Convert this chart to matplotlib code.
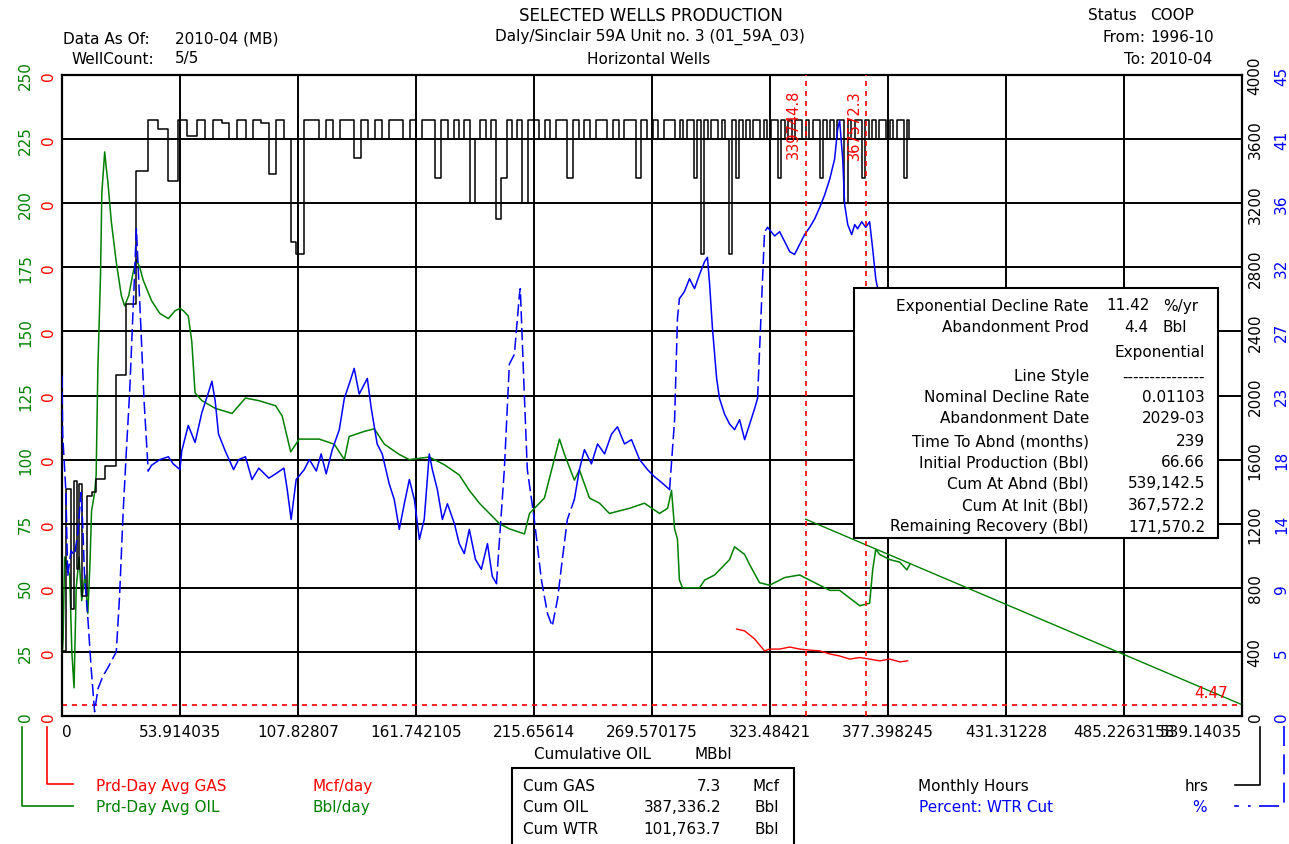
import matplotlib.pyplot as plt
from matplotlib.lines import Line2D
from matplotlib.patches import Rectangle

plt.rcParams['font.family'] = ['DejaVu Sans']
plt.rcParams['font.size'] = 11

GREEN = '#008000'
BLUE = '#0000ff'
RED = '#ff0000'

# x axis: cumulative oil, MBbl
x_max = 539.14035
x_ticks = [0, 53.914035, 107.82807, 161.742105, 215.65614, 269.570175,
           323.48421, 377.398245, 431.31228, 485.2263158, 539.14035]
x_labels = ['0', '53.914035', '107.82807', '161.742105', '215.65614', '269.570175',
            '323.48421', '377.398245', '431.31228', '485.2263158', '539.14035']

oil_ticks = [0, 25, 50, 75, 100, 125, 150, 175, 200, 225, 250]
gas_ticks = [0, 0.025, 0.05, 0.075, 0.1, 0.125, 0.15, 0.175, 0.2, 0.225, 0.25]
hrs_ticks = [0, 400, 800, 1200, 1600, 2000, 2400, 2800, 3200, 3600, 4000]
wc_ticks = [0, 4.5, 9, 13.5, 18, 22.5, 27, 31.5, 36, 40.5, 45]
wc_labels = ['0', '5', '9', '14', '18', '23', '27', '32', '36', '41', '45']

# Prd-Day Avg OIL (Bbl/day) vs cumulative oil
oil_cum = [0, 0.5, 1.2, 2.3, 3.5, 4.5, 5.5, 6.5, 7.8, 9.0, 10.5, 11.8, 12.8, 13.5,
           14.9, 15.6, 16.4, 17.6, 18.2, 19.5, 20.2, 21.0, 22.5, 24.8, 27.1, 28.6,
           30.5, 32.5, 34.0, 35.5, 37.1, 40.9, 44.7, 48.6, 51.6, 53.9, 55.5, 57.7,
           59.3, 60.8, 63.9, 70.0, 77.7, 83.8, 89.9, 97.6, 100.6, 104.5, 108.4,
           117.5, 124.4, 129.0, 131.2, 138.1, 142.7, 147.3, 154.1, 158.7, 167.8,
           174.7, 181.5, 186.1, 190.7, 195.3, 199.9, 204.4, 211.3, 213.6, 220.4,
           227.3, 229.6, 234.1, 236.4, 241.0, 245.6, 250.1, 259.3, 266.1, 273.0,
           276.7, 278.5, 279.9, 281.2, 282.1, 283.5, 291.3, 293.6, 298.2, 305.0,
           307.3, 311.9, 314.2, 318.7, 323.3, 330.2, 337.0, 343.9, 350.8, 355.3,
           359.9, 364.5, 369.0, 370.4, 371.8, 373.6, 378.2, 382.8, 386.0, 387.3]
oil_rate = [22, 30, 62, 58, 55, 25, 11, 50, 62, 45, 55, 40, 60, 80,
            87, 94, 136, 172, 204, 220, 214, 208, 193, 177, 164, 160,
            164, 173, 178, 175, 170, 162, 157, 155, 158, 159, 158, 156,
            146, 126, 123, 120, 118, 124, 123, 121, 117, 103, 108,
            108, 106, 100, 109, 111, 112, 106, 102, 100, 101,
            98, 94, 88, 83, 79, 75, 73, 71, 79, 85,
            108, 102, 92, 96, 85, 83, 79, 81, 83, 79,
            81, 88, 73, 69, 53, 50, 50, 53, 55, 61,
            66, 63, 59, 52, 51, 54, 55, 52, 49, 49,
            46, 43, 44, 57, 65, 63, 61, 60, 57, 59]

# exponential decline forecast (rate vs cum is a straight line)
fc_cum = [339.7448, 539.1425]
fc_rate = [76.76, 4.4]
abandon_rate = 4.47
marker_cum = [339.7448, 367.5723]
marker_text = ['339744.8', '367572.3']

# Prd-Day Avg GAS (Mcf/day)
gas_cum = [308.2, 311.9, 316.5, 321.0, 323.3, 327.9, 332.5, 337.0, 341.6, 346.2,
           350.8, 355.3, 359.9, 364.5, 369.0, 373.6, 378.2, 382.8, 386.4]
gas_rate = [0.0339, 0.0332, 0.0300, 0.0254, 0.0261, 0.0261, 0.0269, 0.0261, 0.0257,
            0.0254, 0.0242, 0.0234, 0.0222, 0.0228, 0.0222, 0.0215, 0.0222, 0.0211, 0.0215]

# Monthly Hours (step per month)
hrs_cum = [0, 1.8, 4.1, 5.5, 6.9, 7.8, 9.1, 11.4, 13.7, 15.6, 19.5, 24.8, 29.1, 34.0,
           39.4, 44.0, 48.6, 53.2, 57.0, 61.6, 65.5, 68.9, 73.2, 76.3, 80.1, 83.9,
           87.3, 90.8, 94.6, 97.6, 101.4, 104.5, 107.0, 110.7, 114.0, 117.2, 120.4,
           123.6, 126.8, 130.0, 133.2, 136.4, 139.6, 142.8, 146.0, 149.2, 152.4,
           155.6, 158.8, 161.7, 164.6, 167.5, 170.4, 173.3, 176.2, 179.1, 181.5,
           183.9, 186.3, 188.7, 191.1, 193.5, 195.9, 198.3, 200.7, 203.1, 205.5,
           207.9, 210.3, 212.7, 215.3, 217.9, 220.5, 223.1, 225.7, 228.3, 230.9,
           233.5, 236.1, 238.7, 241.3, 243.9, 246.5, 249.1, 251.7, 254.3, 256.9,
           259.5, 262.1, 264.7, 267.3, 269.9, 272.5, 275.1, 277.7, 280.3, 282.2,
           283.8, 285.4, 287.0, 288.6, 290.2, 291.8, 293.4, 295.0, 296.6, 298.2,
           299.8, 301.4, 303.0, 304.6, 306.2, 307.8, 309.4, 311.0, 312.6, 314.2,
           315.8, 317.4, 319.0, 320.6, 322.2, 323.8, 325.4, 327.0, 328.6, 330.2,
           331.8, 333.4, 335.0, 336.6, 338.2, 339.8, 341.4, 343.0, 344.6, 346.2,
           347.8, 349.4, 351.0, 352.6, 354.2, 355.8, 357.4, 359.0, 360.6, 362.2,
           363.8, 365.4, 367.0, 368.6, 370.2, 371.8, 373.4, 375.0, 376.6, 378.2,
           379.8, 381.4, 383.0, 384.6, 386.2, 386.8, 387.3]
hrs_val = [405, 1416, 668, 1466, 917, 1448, 749, 1373, 1400, 1480, 1560, 2130, 2570, 3400,
           3720, 3660, 3340, 3720, 3620, 3720, 3600, 3720, 3700, 3600, 3720, 3600,
           3720, 3700, 3380, 3720, 3600, 2960, 2880, 3720, 3720, 3600, 3720,
           3600, 3720, 3720, 3480, 3720, 3600, 3720, 3600, 3720, 3720,
           3600, 3720, 3600, 3720, 3720, 3360, 3720, 3600, 3720, 3600,
           3720, 3200, 3600, 3720, 3600, 3720, 3100, 3360, 3720, 3600,
           3720, 3200, 3720, 3720, 3600, 3720, 3600, 3720, 3720, 3360,
           3720, 3600, 3720, 3600, 3720, 3720, 3600, 3720, 3600, 3720,
           3720, 3360, 3720, 3600, 3720, 3600, 3720, 3720, 3600, 3720,
           3600, 3720, 3720, 3360, 3720, 2880, 3720, 3600, 3720, 3720,
           3600, 3720, 3600, 2880, 3720, 3360, 3720, 3600, 3720, 3600,
           3720, 3720, 3600, 3720, 3600, 3720, 3720, 3360, 3720, 3600,
           3720, 3600, 3720, 3720, 3600, 3720, 3600, 3720, 3720, 3360,
           3720, 3600, 3720, 3600, 3720, 3720, 3200, 3720, 3600, 3720,
           3720, 3360, 3720, 3600, 3720, 3600, 3720, 3720, 3600, 3720,
           3600, 3720, 3720, 3360, 3720, 3600, 3600]

# Percent: WTR Cut
wc_cum = [0, 0.3, 1.8, 2.6, 4.1, 5.7, 7.2, 8.7, 9.5, 10.3, 11.8, 13.3, 14.9, 16.4,
          18.7, 21.0, 24.8, 26.3, 27.9, 29.4, 30.9, 32.5, 34.0, 36.0, 37.5, 39.4,
          40.9, 44.7, 48.6, 50.8, 53.9, 54.7, 57.7, 60.8, 63.9, 66.9, 68.5, 70.0,
          71.5, 74.6, 78.4, 80.7, 83.8, 86.8, 89.9, 94.5, 97.6, 101.4, 102.9, 104.7,
          107.0, 110.7, 113.0, 116.2, 118.4, 120.7, 123.5, 126.7, 129.0, 131.2,
          133.5, 135.8, 139.5, 141.3, 144.0, 146.3, 149.5, 151.8, 154.1, 156.4,
          158.7, 161.0, 163.3, 165.5, 167.8, 169.2, 171.5, 173.8, 176.1, 179.3,
          181.5, 183.8, 186.1, 188.9, 191.6, 194.4, 196.6, 198.5, 202.1, 204.4,
          206.7, 209.0, 209.4, 211.3, 212.6, 215.8, 219.0, 221.8, 224.0, 226.4,
          228.6, 230.9, 234.1, 236.4, 238.7, 241.9, 244.7, 247.9, 251.1, 253.8,
          257.0, 260.2, 263.9, 267.5, 270.7, 273.9, 277.6, 279.9, 281.2, 282.1,
          284.4, 286.7, 289.0, 291.3, 293.6, 294.9, 295.9, 297.2, 299.1, 300.4,
          302.7, 305.0, 307.3, 309.6, 311.9, 314.2, 316.5, 317.8, 319.7, 321.0,
          322.4, 325.6, 327.9, 330.2, 332.5, 334.7, 337.0, 339.3, 341.6, 343.9,
          346.2, 348.5, 350.8, 353.0, 354.4, 355.3, 356.7, 357.6, 359.0, 360.8,
          362.2, 363.5, 365.4, 367.2, 369.0, 370.4, 371.8, 373.6]
wc_pct = [23.9, 19.8, 15.7, 9.8, 11.6, 11.3, 12.8, 15.7, 13.3, 9.8, 6.9, 3.4, 0.3, 1.9,
          2.8, 3.4, 4.5, 8.4, 14.2, 18.6, 22.7, 28.6, 34.2, 27.4, 22.1, 17.2,
          17.6, 18.0, 18.2, 17.7, 17.3, 18.6, 20.4, 19.2, 21.3, 22.7, 23.5, 22.1,
          19.8, 18.6, 17.3, 18.0, 18.2, 16.6, 17.4, 16.7, 17.0, 17.4, 15.9, 13.8,
          16.6, 17.3, 18.0, 17.2, 18.4, 17.0, 18.7, 20.1, 22.3, 23.3,
          24.4, 22.6, 23.7, 21.6, 19.1, 18.4, 16.3, 15.2, 13.1, 14.9,
          16.6, 15.2, 12.4, 13.8, 18.4, 17.3, 15.9, 13.8, 14.9, 13.5,
          12.1, 11.4, 13.1, 11.0, 10.3, 12.1, 9.8, 9.3, 17.3, 24.7,
          25.4, 29.6, 30.0, 22.3, 17.3, 13.8, 9.6, 7.2, 6.3, 8.2,
          11.0, 13.8, 15.2, 17.3, 18.7, 17.7, 19.1, 18.4, 19.8, 20.3,
          19.1, 19.4, 18.0, 17.3, 16.8, 16.4, 15.9, 20.8, 27.9, 29.3,
          29.8, 30.7, 30.0, 31.0, 31.9, 32.2, 30.3, 27.2, 23.7, 22.3,
          21.2, 20.5, 20.1, 20.8, 19.4, 20.5, 21.6, 22.3, 29.3, 34.0,
          34.3, 33.7, 34.0, 33.3, 32.6, 32.4, 33.1, 33.8, 34.3, 34.9,
          35.7, 36.6, 37.7, 39.1, 41.2, 41.8, 39.1, 35.9, 34.5, 33.8,
          34.5, 34.2, 34.7, 34.3, 34.7, 32.8, 30.7, 29.3]
# stretches of the water cut drawn with a long dash
wc_dashed = [(0, 39.4), (198.5, 234.1), (277.6, 282.1), (317.8, 322.4)]

W, H = 1289, 845


def fx(px):
    return px / W


def fy(py):
    return 1 - py / H


fig = plt.figure(figsize=(W / 100, H / 100), dpi=100)
ax = fig.add_axes([fx(62), fy(717), (1242 - 62) / W, (717 - 76) / H])
ax.set_xlim(0, x_max)
ax.set_ylim(0, 250)
ax.set_xticks(x_ticks)
ax.set_xticklabels(x_labels)
ticks = ax.xaxis.get_major_ticks()
ticks[0].label1.set_ha('left')
ticks[-1].label1.set_ha('right')
ax.set_yticks(oil_ticks)
ax.set_yticklabels([str(v) for v in oil_ticks], rotation=90, va='center', color=GREEN)
ax.tick_params(axis='both', length=0)
ax.tick_params(axis='y', pad=21)
ax.tick_params(axis='x', pad=6)
ax.grid(True, color='black', lw=1.4)
ax.set_axisbelow(True)
for s in ax.spines.values():
    s.set_linewidth(1.6)

ax_gas = ax.twinx()
ax_gas.set_ylim(0, 0.25)
ax_gas.yaxis.set_ticks_position('left')
ax_gas.set_yticks(gas_ticks)
ax_gas.set_yticklabels(['0'] * len(gas_ticks), rotation=90, va='center', color=RED)
ax_gas.tick_params(axis='y', length=0, pad=4.5)

ax_hrs = ax.twinx()
ax_hrs.set_ylim(0, 4000)
ax_hrs.set_yticks(hrs_ticks)
ax_hrs.set_yticklabels([str(v) for v in hrs_ticks], rotation=90, va='center')
ax_hrs.tick_params(axis='y', length=0, pad=4)

ax_wc = ax.twinx()
ax_wc.set_ylim(0, 45)
ax_wc.set_yticks(wc_ticks)
ax_wc.set_yticklabels(wc_labels, rotation=90, va='center', color=BLUE)
ax_wc.tick_params(axis='y', length=0, pad=23)

for a in (ax_gas, ax_hrs, ax_wc):
    for s in a.spines.values():
        s.set_visible(False)

# oil + forecast
ax.plot(oil_cum, oil_rate, color=GREEN, lw=1.1)
ax.plot(fc_cum, fc_rate, color=GREEN, lw=1.0)
ax.axhline(abandon_rate, color=RED, lw=1.2, dashes=(3, 3))
ax.annotate('4.47', xy=(x_max, abandon_rate), xytext=(-10, 3), textcoords='offset points',
            ha='right', va='bottom', color=RED)

# gas
ax_gas.plot(gas_cum, gas_rate, color=RED, lw=1.0)

# monthly hours
ax_hrs.step(hrs_cum, hrs_val, where='post', color='black', lw=1.1)

# water cut, solid and dashed stretches
flags = []
for i in range(len(wc_cum) - 1):
    mid = 0.5 * (wc_cum[i] + wc_cum[i + 1])
    flags.append(any(a <= mid <= b for a, b in wc_dashed))
start = 0
for i in range(1, len(flags) + 1):
    if i == len(flags) or flags[i] != flags[start]:
        if flags[start]:
            ax_wc.plot(wc_cum[start:i + 1], wc_pct[start:i + 1], color=BLUE, lw=1.1, dashes=(8, 3))
        else:
            ax_wc.plot(wc_cum[start:i + 1], wc_pct[start:i + 1], color=BLUE, lw=1.1)
        start = i

for xc, txt in zip(marker_cum, marker_text):
    ax_wc.axvline(xc, color=RED, lw=1.2, dashes=(3, 3))
    ax_wc.annotate(txt, xy=(xc, 1), xycoords=('data', 'axes fraction'), xytext=(-3, -10),
                   textcoords='offset points', rotation=90, ha='right', va='top',
                   color=RED, fontsize=10.5)

# header
fig.text(fx(63), fy(39), 'Data As Of:', va='center')
fig.text(fx(175), fy(39), '2010-04 (MB)', va='center')
fig.text(fx(72), fy(59), 'WellCount:', va='center')
fig.text(fx(175), fy(59), '5/5', va='center')
fig.text(fx(651), fy(16), 'SELECTED WELLS PRODUCTION', ha='center', va='center', fontsize=12)
fig.text(fx(650), fy(37), 'Daly/Sinclair 59A Unit no. 3 (01_59A_03)', ha='center', va='center')
fig.text(fx(649), fy(59), 'Horizontal Wells', ha='center', va='center')
fig.text(fx(1137), fy(16), 'Status', ha='right', va='center')
fig.text(fx(1150), fy(16), 'COOP', va='center')
fig.text(fx(1145), fy(38), 'From:', ha='right', va='center')
fig.text(fx(1150), fy(38), '1996-10', va='center')
fig.text(fx(1145), fy(60), 'To:', ha='right', va='center')
fig.text(fx(1150), fy(60), '2010-04', va='center')

# decline info box
fig.add_artist(Rectangle((fx(854), fy(539)), (1218 - 854) / W, (539 - 289) / H,
                         transform=fig.transFigure, fc='white', ec='black', lw=1.5, zorder=5))
box_rows = [
    (306, 'Exponential Decline Rate', None),
    (328, 'Abandonment Prod', None),
    (353, '', 'Exponential'),
    (377, 'Line Style', '---------------'),
    (398, 'Nominal Decline Rate', '0.01103'),
    (419, 'Abandonment Date', '2029-03'),
    (442, 'Time To Abnd (months)', '239'),
    (463, 'Initial Production (Bbl)', '66.66'),
    (484, 'Cum At Abnd (Bbl)', '539,142.5'),
    (506, 'Cum At Init (Bbl)', '367,572.2'),
    (527, 'Remaining Recovery (Bbl)', '171,570.2'),
]
for py, lab, val in box_rows:
    if lab:
        fig.text(fx(1089), fy(py), lab, ha='right', va='center', zorder=6)
    if val:
        fig.text(fx(1205), fy(py), val, ha='right', va='center', zorder=6)
fig.text(fx(1106), fy(306), '11.42', va='center', zorder=6)
fig.text(fx(1163), fy(306), '%/yr', va='center', zorder=6)
fig.text(fx(1124), fy(328), '4.4', va='center', zorder=6)
fig.text(fx(1162), fy(328), 'Bbl', va='center', zorder=6)

# x axis caption
fig.text(fx(592), fy(755), 'Cumulative OIL', ha='center', va='center')
fig.text(fx(694), fy(755), 'MBbl', va='center')

# legend brackets
fig.add_artist(Line2D([fx(47), fx(47), fx(73)], [fy(728), fy(785), fy(785)], color=RED, lw=1.2))
fig.add_artist(Line2D([fx(22), fx(22), fx(73)], [fy(728), fy(807), fy(807)], color=GREEN, lw=1.2))
fig.add_artist(Line2D([fx(1260), fx(1260), fx(1235)], [fy(728), fy(786), fy(786)], color='black', lw=1.2))
fig.add_artist(Line2D([fx(1284), fx(1284), fx(1248)], [fy(727), fy(807), fy(807)], color=BLUE,
                      lw=1.2, dashes=(12, 5)))
fig.add_artist(Line2D([fx(1235), fx(1238)], [fy(807), fy(807)], color=BLUE, lw=1.2))

fig.text(fx(96), fy(787), 'Prd-Day Avg GAS', color=RED, va='center')
fig.text(fx(312), fy(787), 'Mcf/day', color=RED, va='center')
fig.text(fx(96), fy(808), 'Prd-Day Avg OIL', color=GREEN, va='center')
fig.text(fx(313), fy(808), 'Bbl/day', color=GREEN, va='center')
fig.text(fx(918), fy(787), 'Monthly Hours', va='center')
fig.text(fx(1209), fy(787), 'hrs', ha='right', va='center')
fig.text(fx(919), fy(808), 'Percent: WTR Cut', color=BLUE, va='center')
fig.text(fx(1207), fy(808), '%', color=BLUE, ha='right', va='center')

# cumulative totals box
fig.add_artist(Rectangle((fx(512), fy(850)), (794 - 512) / W, (850 - 769) / H,
                         transform=fig.transFigure, fc='white', ec='black', lw=1.5))
cum_rows = [(787, 'Cum GAS', '7.3', 'Mcf'), (808, 'Cum OIL', '387,336.2', 'Bbl'),
            (830, 'Cum WTR', '101,763.7', 'Bbl')]
for py, lab, val, unit in cum_rows:
    fig.text(fx(523), fy(py), lab, va='center')
    fig.text(fx(721), fy(py), val, ha='right', va='center')
    fig.text(fx(779), fy(py), unit, ha='right', va='center')

fig.savefig('out.png', dpi=100)
